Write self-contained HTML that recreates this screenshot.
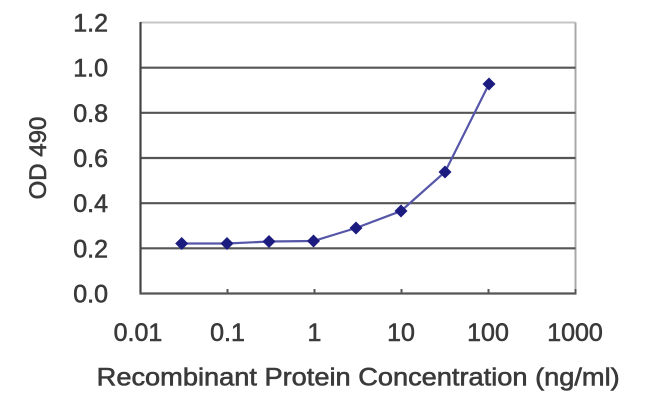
<!DOCTYPE html>
<html>
<head>
<meta charset="utf-8">
<style>
html,body{margin:0;padding:0;background:#fff;}
svg{display:block;}
text{font-family:"Liberation Sans",Arial,sans-serif;fill:#3a3a3a;stroke:#3a3a3a;stroke-width:0.6;}
</style>
</head>
<body>
<svg width="650" height="404" viewBox="0 0 650 404" xmlns="http://www.w3.org/2000/svg">
  <rect width="650" height="404" fill="#fff"/>
  <!-- top border -->
  <line x1="140.5" y1="22.5" x2="575.5" y2="22.5" stroke="#c4c4c4" stroke-width="2"/>
  <!-- right border -->
  <line x1="575.5" y1="22.5" x2="575.5" y2="293.5" stroke="#a8a8a8" stroke-width="2"/>
  <!-- gridlines -->
  <g stroke="#555" stroke-width="2.2">
    <line x1="140.5" y1="67.7" x2="575.5" y2="67.7"/>
    <line x1="140.5" y1="112.8" x2="575.5" y2="112.8"/>
    <line x1="140.5" y1="158" x2="575.5" y2="158"/>
    <line x1="140.5" y1="203.2" x2="575.5" y2="203.2"/>
    <line x1="140.5" y1="248.3" x2="575.5" y2="248.3"/>
  </g>
  <!-- axes -->
  <line x1="140.5" y1="22" x2="140.5" y2="294.5" stroke="#444" stroke-width="2.2"/>
  <line x1="139.5" y1="293.5" x2="576.5" y2="293.5" stroke="#555" stroke-width="2.2"/>
  <!-- x ticks -->
  <g stroke="#555" stroke-width="2">
    <line x1="227.5" y1="289" x2="227.5" y2="293"/>
    <line x1="314.5" y1="289" x2="314.5" y2="293"/>
    <line x1="401.5" y1="289" x2="401.5" y2="293"/>
    <line x1="488.5" y1="289" x2="488.5" y2="293"/>
    <line x1="575.5" y1="289" x2="575.5" y2="293"/>
  </g>
  <!-- series -->
  <polyline fill="none" stroke="#5656a8" stroke-width="2.2"
    points="181.7,243.5 227,243.5 269,241.5 313.5,241 356,228 401,211 445,172 489,84"/>
  <g fill="#1c1c80">
    <polygon points="181.7,237 188.2,243.5 181.7,250 175.2,243.5"/>
    <polygon points="227,237 233.5,243.5 227,250 220.5,243.5"/>
    <polygon points="269,235 275.5,241.5 269,248 262.5,241.5"/>
    <polygon points="313.5,234.5 320,241 313.5,247.5 307,241"/>
    <polygon points="356,221.5 362.5,228 356,234.5 349.5,228"/>
    <polygon points="401,204.5 407.5,211 401,217.5 394.5,211"/>
    <polygon points="445,165.5 451.5,172 445,178.5 438.5,172"/>
    <polygon points="489,77.5 495.5,84 489,90.5 482.5,84"/>
  </g>
  <!-- y labels -->
  <g font-size="25" text-anchor="end">
    <text x="108" y="31.5">1.2</text>
    <text x="108" y="76.7">1.0</text>
    <text x="108" y="121.8">0.8</text>
    <text x="108" y="167">0.6</text>
    <text x="108" y="212.2">0.4</text>
    <text x="108" y="257.3">0.2</text>
    <text x="108" y="302.5">0.0</text>
  </g>
  <!-- x labels -->
  <g font-size="25" text-anchor="middle">
    <text x="138" y="341">0.01</text>
    <text x="227.5" y="341">0.1</text>
    <text x="314.5" y="341">1</text>
    <text x="401" y="341">10</text>
    <text x="488" y="341">100</text>
    <text x="575" y="341">1000</text>
  </g>
  <!-- titles -->
  <text x="96.7" y="385.5" font-size="25" textLength="523" lengthAdjust="spacingAndGlyphs">Recombinant Protein Concentration (ng/ml)</text>
  <text transform="translate(46,158) rotate(-90)" font-size="24" text-anchor="middle">OD 490</text>
</svg>
</body>
</html>
